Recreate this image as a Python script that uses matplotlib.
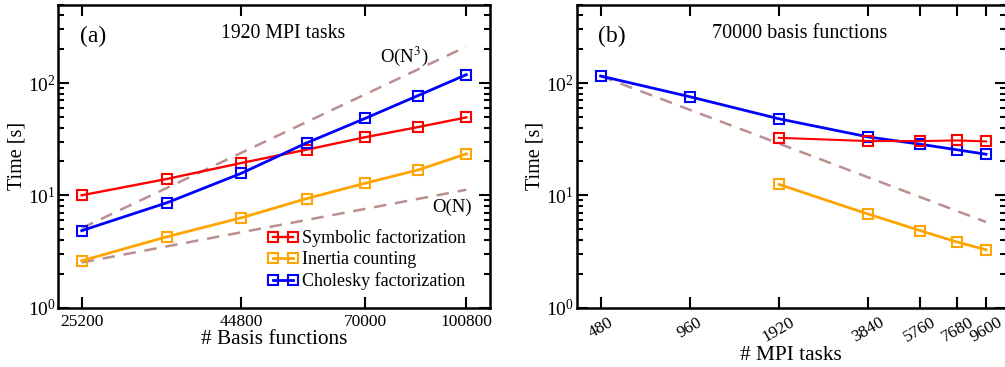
import matplotlib
matplotlib.use("Agg")
import matplotlib.pyplot as plt
from matplotlib.ticker import FixedLocator, NullLocator, LogLocator, NullFormatter

plt.rcParams["font.family"] = ["Liberation Serif", "DejaVu Serif"]
plt.rcParams["mathtext.fontset"] = "stix"

# panel (a): fixed 1920 MPI tasks, varying basis size
basis = [25200, 34300, 44800, 56700, 70000, 84700, 100800]
symb_a = [10.0, 14.0, 19.4, 25.5, 32.9, 40.5, 49.4]
inert_a = [2.61, 4.28, 6.3, 9.35, 12.8, 16.8, 23.4]
chol_a = [4.84, 8.6, 15.7, 29.3, 48.4, 77.3, 118.7]
n3_x = [25200, 100800]
n3_y = [5.1, 211.0]
n1_x = [25200, 100800]
n1_y = [2.52, 11.2]
basis_ticks = [25200, 44800, 70000, 100800]

# panel (b): fixed 70000 basis functions, varying MPI tasks
tasks = [480, 960, 1920, 3840, 5760, 7680, 9600]
chol_b = [115.5, 75.5, 48.0, 33.1, 28.5, 25.4, 23.2]
tasks_sub = [1920, 3840, 5760, 7680, 9600]
symb_b = [32.5, 30.4, 30.4, 30.8, 30.2]
inert_b = [12.5, 6.8, 4.84, 3.83, 3.27]
ideal_x = [480, 9600]
ideal_y = [115.5, 5.78]

RED = "#ff0000"
ORANGE = "#ffa500"
BLUE = "#0000ff"
DASH = "#bc8f8f"
FS = 12.5

fig = plt.figure(figsize=(10.05, 3.67), dpi=100)
ax1 = fig.add_axes([0.058, 0.162, 0.4296, 0.8256])
ax2 = fig.add_axes([0.5738, 0.162, 0.4272, 0.8256])

mk = dict(marker="s", mfc="none", ms=6.5, mew=1.5)


def style_axis(ax):
    ax.set_xscale("log")
    ax.set_yscale("log")
    ax.set_ylim(1, 500)
    ax.yaxis.set_minor_locator(LogLocator(base=10, subs=range(2, 10)))
    ax.yaxis.set_minor_formatter(NullFormatter())
    ax.xaxis.set_minor_locator(NullLocator())
    ax.tick_params(which="both", direction="in", top=True, right=True, width=1.5)
    ax.tick_params(which="major", length=8)
    ax.tick_params(which="minor", length=4)
    ax.tick_params(axis="x", labelsize=FS, pad=5)
    ax.tick_params(axis="y", labelsize=FS + 1.5, pad=2)
    for s in ax.spines.values():
        s.set_linewidth(1.8)
    ax.set_ylabel("Time [s]", fontsize=14.5)
    ax.yaxis.set_label_coords(-0.074, 0.5)


# ---- (a)
ax1.plot(n3_x, n3_y, "--", color=DASH, lw=1.8, dashes=(5, 3.5))
ax1.plot(n1_x, n1_y, "--", color=DASH, lw=1.8, dashes=(5, 3.5))
ax1.plot(basis, symb_a, color=RED, lw=1.7, mec=RED, label="Symbolic factorization", **mk)
ax1.plot(basis, inert_a, color=ORANGE, lw=2.0, mec=ORANGE, label="Inertia counting", **mk)
ax1.plot(basis, chol_a, color=BLUE, lw=2.0, mec=BLUE, label="Cholesky factorization", **mk)
style_axis(ax1)
ax1.set_xlim(23160, 109800)
ax1.xaxis.set_major_locator(FixedLocator(basis_ticks))
ax1.set_xticklabels([str(v) for v in basis_ticks])
ax1.set_xlabel("# Basis functions", fontsize=FS + 2.8, labelpad=0)
ax1.text(0.05, 0.894, "(a)", transform=ax1.transAxes, fontsize=17, va="center")
ax1.text(0.52, 0.904, "1920 MPI tasks", transform=ax1.transAxes, fontsize=14.2, ha="center", va="center")
ax1.text(0.801, 0.828, "O(N$^3$)", transform=ax1.transAxes, fontsize=13.5, ha="center", va="center")
ax1.text(0.912, 0.33, "O(N)", transform=ax1.transAxes, fontsize=13.5, ha="center", va="center")
ax1.legend(loc="upper left", bbox_to_anchor=(0.484, 0.258), frameon=False, fontsize=13,
           numpoints=2, handlelength=1.7, handletextpad=0.2, labelspacing=0.22,
           borderaxespad=0, borderpad=0)

# ---- (b)
ax2.plot(ideal_x, ideal_y, "--", color=DASH, lw=1.8, dashes=(5, 3.5))
ax2.plot(tasks, chol_b, color=BLUE, lw=2.0, mec=BLUE, **mk)
ax2.plot(tasks_sub, symb_b, color=RED, lw=1.5, mec=RED, **mk)
ax2.plot(tasks_sub, inert_b, color=ORANGE, lw=2.0, mec=ORANGE, **mk)
style_axis(ax2)
ax2.set_xlim(398.5, 11213)
ax2.xaxis.set_major_locator(FixedLocator(tasks))
ax2.set_xticklabels([str(v) for v in tasks], rotation=30, ha="center")
ax2.set_xlabel("# MPI tasks", fontsize=FS + 2.8, labelpad=0)
ax2.text(0.05, 0.894, "(b)", transform=ax2.transAxes, fontsize=17, va="center")
ax2.text(0.52, 0.904, "70000 basis functions", transform=ax2.transAxes, fontsize=14.5, ha="center", va="center")

fig.savefig("out.png", dpi=100)
